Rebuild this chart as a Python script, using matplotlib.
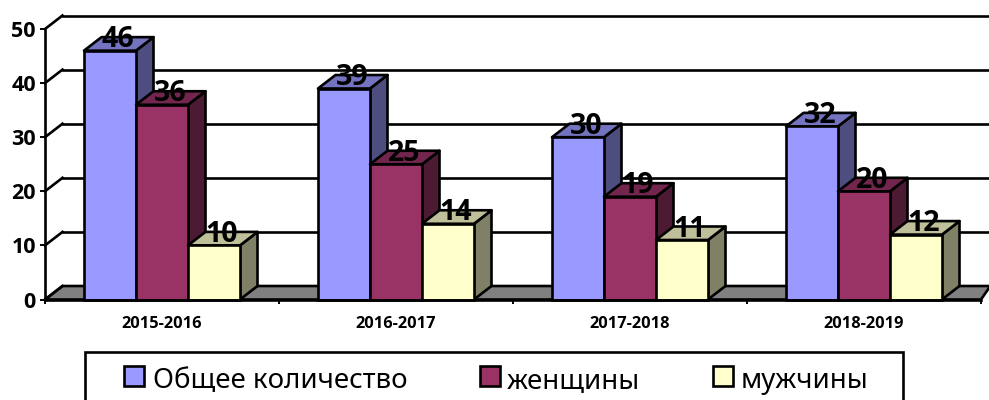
import matplotlib
matplotlib.use('Agg')
import matplotlib.pyplot as plt
from matplotlib.patches import Polygon, Rectangle

years = ['2015-2016', '2016-2017', '2017-2018', '2018-2019']
series_names = ['Общее количество', 'женщины', 'мужчины']
total = [46, 39, 30, 32]
women = [36, 25, 19, 20]
men = [10, 14, 11, 12]
y_ticks = [0, 10, 20, 30, 40, 50]

W, H = 989, 400
LEFT, RIGHT, Y0, Y50 = 45, 981, 299.5, 29
colors = ['#9999FF', '#993366', '#FFFFCC']
tops = ['#7373BF', '#73264D', '#BFBF99']
sides = ['#4D4D80', '#4D1A33', '#808066']

fig = plt.figure(figsize=(W / 100, H / 100), dpi=100)
ax = fig.add_axes([LEFT / W, 1 - Y0 / H, (RIGHT - LEFT) / W, (Y0 - Y50) / H])
ax.set_xlim(0, 4)
ax.set_ylim(0, 50)

# depth of the fake 3d box, in data units
dx = 17.5 / 234
dy = 13.5 / 5.41
bar_w = 52 / 234
lw = 1.9


def poly(pts, fc, z):
    ax.add_patch(Polygon(pts, closed=True, fc=fc, ec='black', lw=lw, clip_on=False,
                         zorder=z, joinstyle='round'))


# floor and back wall
poly([(0, 0), (dx, dy), (4.04, dy), (4, 0)], '#808080', 2)
for t in y_ticks[1:]:
    ax.plot([dx, 4.05], [t + dy, t + dy], color='black', lw=lw, clip_on=False, zorder=1)
for t in y_ticks:
    ax.plot([0, dx], [t, t + dy], color='black', lw=lw, clip_on=False, zorder=3)

z = 4
for i in range(len(years)):
    for j, vals in enumerate([total, women, men]):
        x = i + 39 / 234 + j * bar_w
        v = vals[i]
        poly([(x + bar_w, 0), (x + bar_w + dx, dy), (x + bar_w + dx, v + dy), (x + bar_w, v)], sides[j], z)
        poly([(x, v), (x + dx, v + dy), (x + bar_w + dx, v + dy), (x + bar_w, v)], tops[j], z)
        ax.bar(x, v, bar_w, align='edge', color=colors[j], edgecolor='black', lw=lw, zorder=z + 0.5, clip_on=False)
        ax.text(x + bar_w / 2 + dx / 2 - 0.004, v + dy - 0.5, str(v), ha='center', va='center', fontsize=20.5,
                fontweight='bold', family='Open Sans', color='black', zorder=50)
        z += 1

for s in ['top', 'right']:
    ax.spines[s].set_visible(False)
for s in ['left', 'bottom']:
    ax.spines[s].set_linewidth(lw)
    ax.spines[s].set_zorder(40)

ax.set_yticks(y_ticks)
ax.set_yticklabels([str(t) for t in y_ticks], fontsize=15.5, fontweight='bold', family='Open Sans')
ax.tick_params(axis='y', length=3.5, width=1.4, pad=3)
ax.set_xticks(range(5))
ax.set_xticklabels([])
ax.set_xticks([i + 0.5 for i in range(4)], minor=True)
ax.set_xticklabels(years, minor=True, fontsize=11.8, fontweight='bold', family='Open Sans')
ax.tick_params(axis='x', which='major', length=3, width=1.4)
ax.tick_params(axis='x', which='minor', length=0, pad=12)

# legend box, cut by the bottom of the picture
fig.add_artist(Rectangle((85 / W, -0.05), 818 / W, 0.05 + (H - 352) / H, transform=fig.transFigure,
                         fc='white', ec='black', lw=lw))
swatch_x = [124, 480, 713]
text_x = [153, 507, 741]
for j, name in enumerate(series_names):
    fig.add_artist(Rectangle((swatch_x[j] / W, (H - 386) / H), 20 / W, 20 / H, transform=fig.transFigure,
                             fc=colors[j], ec='black', lw=lw))
    fig.text(text_x[j] / W, (H - 381) / H, name, fontsize=19.9, family='Noto Sans', ha='left', va='center')

fig.savefig('out.png', dpi=100)
